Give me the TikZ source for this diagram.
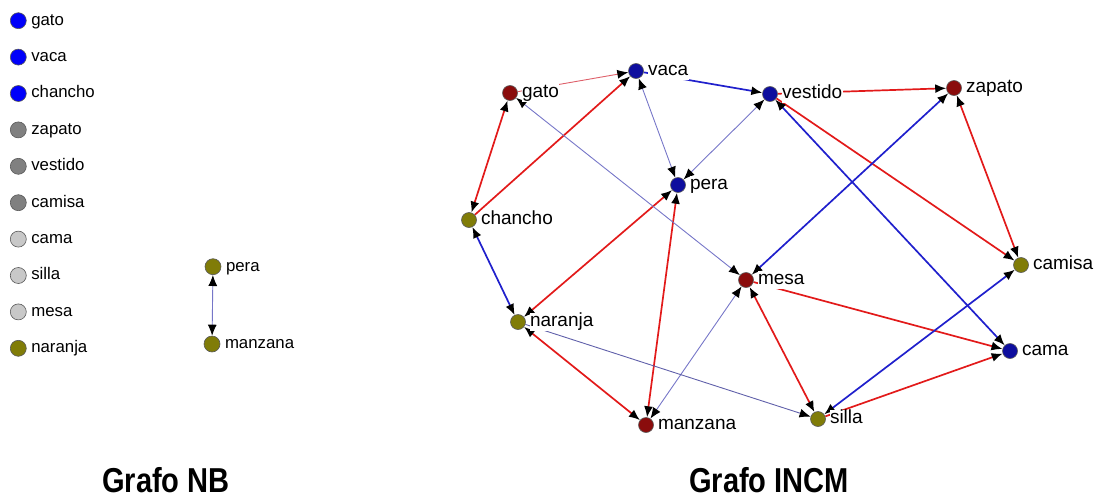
\documentclass[tikz,border=0pt]{standalone}
\usepackage{fontspec}
\setmainfont{Liberation Sans}
\newfontfamily\titlefont{Liberation Sans Bold}[FakeStretch=0.84]
\usetikzlibrary{arrows.meta}

% node fills
\definecolor{nbblue}{RGB}{0,0,250}
\definecolor{nbgray}{RGB}{128,128,128}
\definecolor{nblight}{RGB}{200,200,200}
\definecolor{olivenode}{RGB}{128,124,8}
\definecolor{navynode}{RGB}{14,14,158}
\definecolor{maroonnode}{RGB}{138,12,12}
% edge colours
\definecolor{edgered}{RGB}{226,26,26}
\definecolor{edgeblue}{RGB}{32,32,204}
\definecolor{edgelav}{RGB}{118,118,200}
\definecolor{edgeslate}{RGB}{96,96,170}
\definecolor{edgepink}{RGB}{222,96,106}

\pgfdeclarelayer{edges}
\pgfsetlayers{edges,main}

\tikzset{
  x=1pt, y=-1pt,
  >={Latex[length=11pt,width=9pt,color=black]},
  vtx/.style={circle, draw=black!65, line width=0.6pt, minimum size=15pt, inner sep=0pt},
  lvtx/.style={vtx, minimum size=16pt},
  rlbl/.style={anchor=west, fill=white, inner sep=0.5pt, text height=13.7pt, text depth=3.8pt,
    font=\fontsize{19}{21}\selectfont},
  llbl/.style={anchor=west, inner sep=0pt, text height=12.1pt, text depth=3.4pt,
    font=\fontsize{16.8}{19}\selectfont},
  redE/.style={draw=edgered, line width=1.7pt},
  blueE/.style={draw=edgeblue, line width=1.7pt},
  lavE/.style={draw=edgelav, line width=0.9pt},
  slateE/.style={draw=edgeslate, line width=0.9pt},
  pinkE/.style={draw=edgepink, line width=0.9pt},
  ttl/.style={anchor=base west, inner sep=0pt, font=\titlefont\fontsize{34.6}{38}\selectfont}
}

\begin{document}
\begin{tikzpicture}
\useasboundingbox (0,0) rectangle (1103,498);

% ---------- Grafo NB ----------
\node[lvtx, fill=nbblue]   (nGato)    at (18.3,20.7)  {};
\node[lvtx, fill=nbblue]   (nVaca)    at (18.3,57.1)  {};
\node[lvtx, fill=nbblue]   (nChancho) at (18.3,93.5)  {};
\node[lvtx, fill=nbgray]   (nZapato)  at (18.3,129.9) {};
\node[lvtx, fill=nbgray]   (nVestido) at (18.3,166.3) {};
\node[lvtx, fill=nbgray]   (nCamisa)  at (18.3,202.7) {};
\node[lvtx, fill=nblight]  (nCama)    at (18.3,239.1) {};
\node[lvtx, fill=nblight]  (nSilla)   at (18.3,275.5) {};
\node[lvtx, fill=nblight]  (nMesa)    at (18.3,311.9) {};
\node[lvtx, fill=olivenode](nNaranja) at (18.3,348.3) {};
\node[lvtx, fill=olivenode](nPera)    at (213,266.7)  {};
\node[lvtx, fill=olivenode](nManzana) at (212,344)    {};

\foreach \n/\t in {nGato/gato, nVaca/vaca, nChancho/chancho, nZapato/zapato,
  nVestido/vestido, nCamisa/camisa, nCama/cama, nSilla/silla, nMesa/mesa,
  nNaranja/naranja, nPera/pera, nManzana/manzana}
  \node[llbl] (\n L) at ([xshift=4.5pt]\n.east) {\t};

\begin{pgfonlayer}{edges}
  \draw[lavE, <->] (nPera) -- (nManzana);
\end{pgfonlayer}

% ---------- Grafo INCM ----------
\node[vtx, fill=navynode]   (vaca)    at (636,71)  {};
\node[vtx, fill=maroonnode] (gato)    at (510,93)  {};
\node[vtx, fill=navynode]   (vestido) at (770,94)  {};
\node[vtx, fill=maroonnode] (zapato)  at (954,88)  {};
\node[vtx, fill=navynode]   (pera)    at (678,185) {};
\node[vtx, fill=olivenode]  (chancho) at (469,220) {};
\node[vtx, fill=maroonnode] (mesa)    at (746,280) {};
\node[vtx, fill=olivenode]  (camisa)  at (1021,265){};
\node[vtx, fill=olivenode]  (naranja) at (518,322) {};
\node[vtx, fill=navynode]   (cama)    at (1010,351){};
\node[vtx, fill=olivenode]  (silla)   at (818,419) {};
\node[vtx, fill=maroonnode] (manzana) at (646,425) {};

\foreach \n in {vaca, gato, vestido, zapato, pera, chancho, mesa, camisa,
  naranja, cama, silla, manzana}
  \node[rlbl] (\n L) at ([xshift=3.5pt]\n.east) {\n};

\begin{pgfonlayer}{edges}
  % red links
  \draw[pinkE, ->]  (gato) -- (vaca);
  \draw[redE, ->]   (chancho) -- (vaca);
  \draw[redE, <->]  (chancho) -- (gato);
  \draw[redE, <->]  (naranja) -- (pera);
  \draw[redE, <->]  (pera) -- (manzana);
  \draw[redE, <->]  (naranja) -- (manzana);
  \draw[redE, <->]  (mesa) -- (silla);
  \draw[redE, ->]   (mesa) -- (cama);
  \draw[redE, ->]   (vestido) -- (zapato);
  \draw[redE, ->]   (vestido) -- (camisa);
  \draw[redE, <->]  (zapato) -- (camisa);
  \draw[redE, ->]   (silla) -- (cama);
  % blue links
  \draw[blueE, <->] (naranja) -- (chancho);
  \draw[blueE, ->]  (vaca) -- (vestido);
  \draw[blueE, <->] (mesa) -- (zapato);
  \draw[blueE, <->] (vestido) -- (cama);
  \draw[blueE, <->] (silla) -- (camisa);
  % faint links
  \draw[lavE, <->]  (vaca) -- (pera);
  \draw[lavE, <->]  (pera) -- (vestido);
  \draw[lavE, <->]  (gato) -- (mesa);
  \draw[lavE, <->]  (manzana) -- (mesa);
  \draw[slateE, ->] (naranja) -- (silla);
\end{pgfonlayer}

% ---------- titles ----------
\node[ttl] (tNB)   at (102,492.5) {Grafo NB};
\node[ttl] (tINCM) at (689,492.5) {Grafo INCM};
\end{tikzpicture}
\end{document}
